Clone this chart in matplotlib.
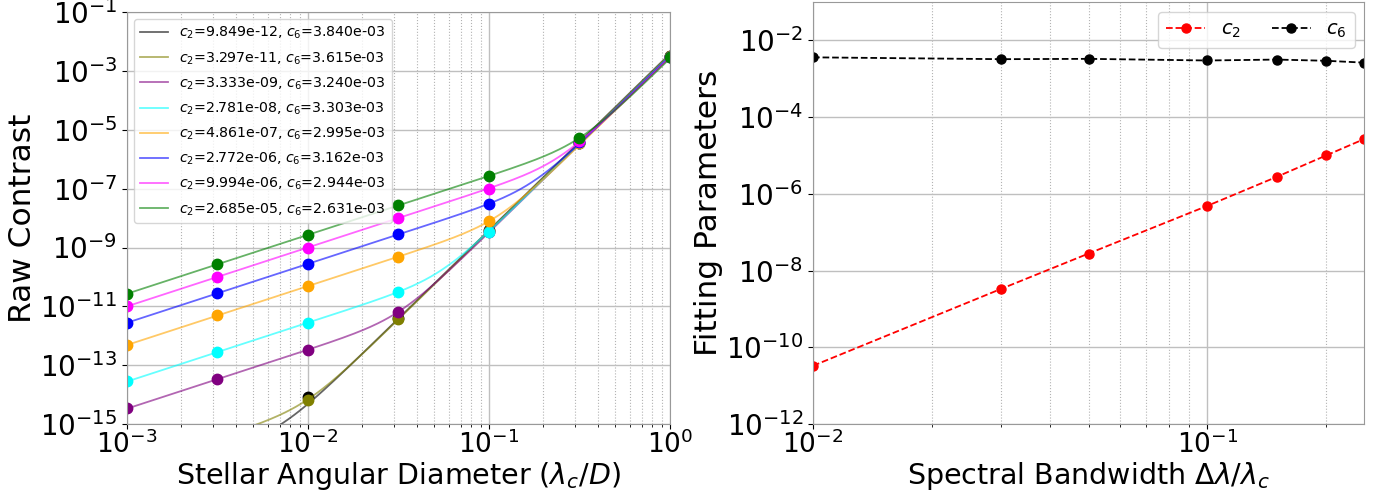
import numpy as np
import matplotlib
matplotlib.use('Agg')
import matplotlib.pyplot as plt

# fit coefficients, from the legend
c2 = [9.849e-12, 3.297e-11, 3.333e-09, 2.781e-08, 4.861e-07, 2.772e-06, 9.994e-06, 2.685e-05]
c6 = [3.840e-03, 3.615e-03, 3.240e-03, 3.303e-03, 2.995e-03, 3.162e-03, 2.944e-03, 2.631e-03]
colors = ['k', 'olive', 'purple', 'cyan', 'orange', 'blue', 'magenta', 'green']

# measured raw contrast vs stellar diameter
diam = [1e-3, 3.162e-3, 1e-2, 3.162e-2, 1e-1, 3.162e-1, 1.0]
contrast = [
    [9.9e-18, 1.0e-16, 8.5e-15, 3.9e-12, 3.8e-09, 3.6e-06, 3.2e-03],
    [3.3e-17, 3.3e-16, 6.6e-15, 3.6e-12, 3.6e-09, 3.6e-06, 3.2e-03],
    [3.5e-15, 3.3e-14, 3.4e-13, 6.6e-12, 3.3e-09, 3.5e-06, 3.1e-03],
    [2.8e-14, 2.8e-13, 2.8e-12, 3.1e-11, 3.5e-09, 3.6e-06, 3.1e-03],
    [4.9e-13, 4.9e-12, 4.9e-11, 4.9e-10, 7.8e-09, 3.6e-06, 3.1e-03],
    [2.8e-12, 2.8e-11, 2.8e-10, 2.8e-09, 3.1e-08, 3.8e-06, 3.1e-03],
    [1.0e-11, 1.0e-10, 1.0e-09, 1.0e-08, 1.0e-07, 4.2e-06, 3.1e-03],
    [2.7e-11, 2.7e-10, 2.7e-09, 2.7e-08, 2.7e-07, 5.2e-06, 3.1e-03],
]

# fitted parameters vs bandwidth
bandwidth = [0.01, 0.03, 0.05, 0.1, 0.15, 0.2, 0.25]
c2_bw = c2[1:]
c6_bw = c6[1:]

fig = plt.figure(figsize=(13.85, 4.95), dpi=100)
ax1 = fig.add_axes([0.0917, 0.1434, 0.392, 0.832])
ax2 = fig.add_axes([0.587, 0.1434, 0.398, 0.8525])

xf = np.logspace(-3, 0, 300)
for i in range(len(c2)):
    label = '$c_2$=%.3e, $c_6$=%.3e' % (c2[i], c6[i])
    ax1.plot(xf, c2[i] * xf**2 + c6[i] * xf**6, color=colors[i], alpha=0.6, lw=1.3, label=label)
    ax1.plot(diam, contrast[i], 'o', color=colors[i], ms=7.5)

ax1.set_xscale('log')
ax1.set_yscale('log')
ax1.set_xlim(1e-3, 1)
ax1.set_ylim(1e-15, 1e-1)
ax1.set_yticks([10.0**k for k in range(-15, 0, 2)])
ax1.yaxis.set_minor_locator(matplotlib.ticker.NullLocator())
ax1.grid(True, which='major', color='0.75', lw=1)
ax1.grid(True, which='minor', axis='x', color='0.7', ls=':', lw=0.8)
ax1.tick_params(axis='y', labelsize=20)
ax1.tick_params(axis='x', labelsize=19, pad=1)
ax1.set_xlabel(r'Stellar Angular Diameter ($\lambda_c/D$)', fontsize=20.5)
ax1.xaxis.set_label_coords(0.5, -0.088)
ax1.set_ylabel('Raw Contrast', fontsize=22.5, labelpad=2)
ax1.legend(loc='upper left', fontsize=10.2, labelspacing=0.62)

ax2.plot(bandwidth, c2_bw, 'o--', color='red', ms=6.5, lw=1.3, label='$c_2$')
ax2.plot(bandwidth, c6_bw, 'o--', color='black', ms=6.5, lw=1.3, label='$c_6$')
ax2.set_xscale('log')
ax2.set_yscale('log')
ax2.set_xlim(0.01, 0.25)
ax2.set_ylim(1e-12, 1e-1)
ax2.set_yticks([10.0**k for k in range(-12, -1, 2)])
ax2.yaxis.set_minor_locator(matplotlib.ticker.NullLocator())
ax2.grid(True, which='major', color='0.75', lw=1)
ax2.grid(True, which='minor', axis='x', color='0.7', ls=':', lw=0.8)
ax2.tick_params(axis='y', labelsize=20)
ax2.tick_params(axis='x', labelsize=19, pad=1)
ax2.set_xlabel(r'Spectral Bandwidth $\Delta\lambda/\lambda_c$', fontsize=20.5)
ax2.xaxis.set_label_coords(0.5, -0.086)
ax2.set_ylabel('Fitting Parameters', fontsize=22.5, labelpad=2)
ax2.legend(loc='upper right', ncol=2, fontsize=14, columnspacing=1.6)

for ax in (ax1, ax2):
    for s in ax.spines.values():
        s.set_color('0.6')

fig.savefig('out.png', dpi=100)
